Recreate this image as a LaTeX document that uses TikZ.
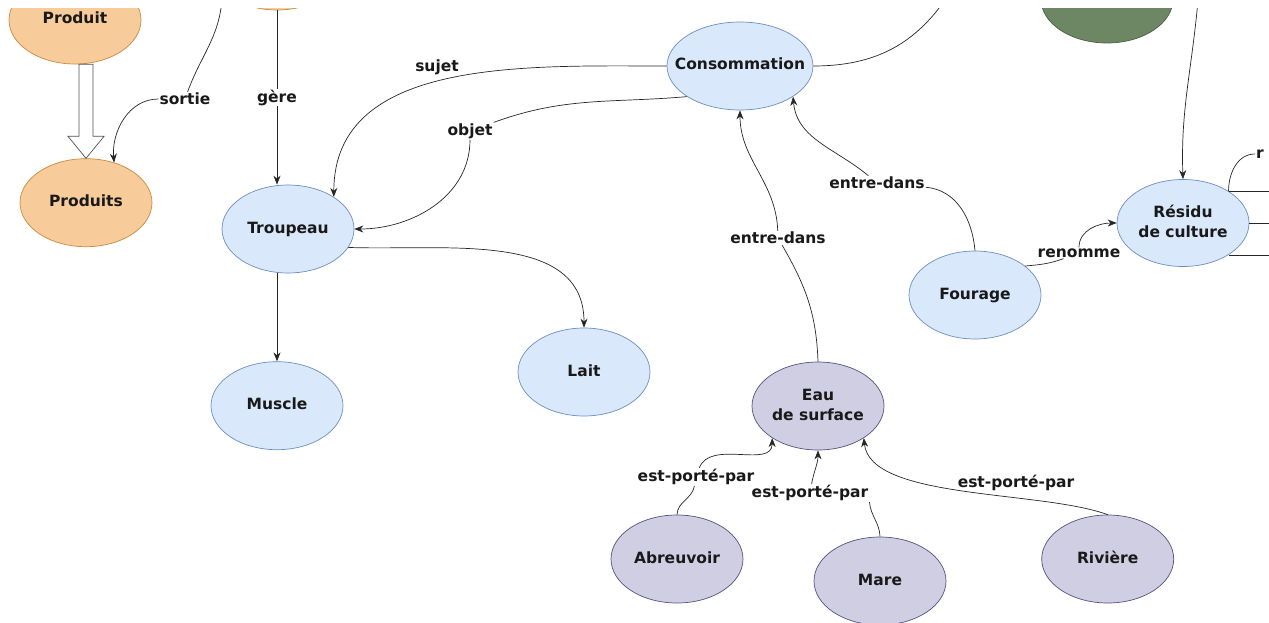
\documentclass[tikz,border=0pt]{standalone}
\usepackage{fontspec}
\setmainfont{DejaVu Sans}
\usepackage{tikz}
\usetikzlibrary{arrows.meta,positioning,shapes.geometric,calc}
\definecolor{bleufond}{HTML}{DAE8FC}
\definecolor{bleutrait}{HTML}{6C8EBF}
\definecolor{orangefond}{HTML}{F8CB9A}
\definecolor{orangetrait}{HTML}{C98A3E}
\definecolor{violetfond}{HTML}{D0CEE2}
\definecolor{violettrait}{HTML}{56517E}
\definecolor{vertfond}{HTML}{6D8764}
\definecolor{trait}{HTML}{262626}
\newcommand{\txt}[1]{\makebox[0pt]{\begin{tabular}{@{}c@{}}#1\end{tabular}}}
\tikzset{
    %Define standard arrow tip
    >={Stealth[length=9pt,width=7pt]},
    %Define style for ellipses
    concept/.style={
           ellipse,
           draw,
           line width=0.7pt,
           minimum width=132pt,
           minimum height=88pt,
           inner sep=0pt,
           font=\fontsize{15.5}{20}\selectfont\bfseries,
           text=black!90,
           },
    noeudbleu/.style={concept, fill=bleufond, draw=bleutrait},
    noeudorange/.style={concept, fill=orangefond, draw=orangetrait},
    noeudviolet/.style={concept, fill=violetfond, draw=violettrait},
    noeudvert/.style={concept, fill=vertfond, draw=vertfond!70!black},
    % Define style for edge labels
    lab/.style={
           fill=white,
           inner sep=1pt,
           font=\fontsize{15.5}{20}\selectfont\bfseries,
           text=black!90,
           },
    % Define arrow style
    lien/.style={->, draw=trait, line width=0.7pt},
    creux/.style={draw=trait!80, fill=white, line width=0.7pt}
}
\begin{document}
\begin{tikzpicture}[x=1pt,y=1pt]
\useasboundingbox (0,0) rectangle (1269,-623);
\clip (0,-9) rectangle (1269,-623);
% nodes
\node[noeudorange] (produit) at (75,-20) {\txt{Produit}};
\node[noeudorange] (gestion) at (277,34) {};
\node[noeudorange, below=94pt of produit, xshift=11pt] (produits) {\txt{Produits}};
\node[noeudbleu] (troupeau) at (288,-229) {\txt{Troupeau}};
\node[noeudbleu, below=88pt of troupeau, xshift=-11pt] (muscle) {\txt{Muscle}};
\node[noeudbleu] (lait) at (584,-372) {\txt{Lait}};
\node[noeudbleu, minimum width=146pt] (conso) at (740,-66) {\txt{Consommation}};
\node[noeudviolet] (eau) at (818,-406) {\txt{Eau\\de surface}};
\node[noeudbleu] (fourage) at (975,-295) {\txt{Fourage}};
\node[noeudbleu, minimum height=87pt] (residu) at (1183,-223) {\txt{Résidu\\de culture}};
\node[noeudvert] (vert) at (1107,1) {};
\node[noeudviolet] (abreuvoir) at (677,-559) {\txt{Abreuvoir}};
\node[noeudviolet, right=298pt of abreuvoir] (riviere) {\txt{Rivière}};
\node[noeudviolet] (mare) at (880,-581) {\txt{Mare}};
% labels
\node[lab] (sortie) at (185,-99) {sortie};
\node[lab] at (437,-67) {sujet};
\node[lab] (objet) at (470,-131) {objet};
\node[lab] (entre1) at (778,-238) {entre-dans};
\node[lab] (entre2) at (877,-183) {entre-dans};
\node[lab] (renomme) at (1079,-253) {renomme};
\node[lab] (porte1) at (696,-477) {est-porté-par};
\node[lab] (porte2) at (810,-493) {est-porté-par};
\node[lab] at (1016,-483) {est-porté-par};
\node[lab, anchor=west] (rlab) at (1255,-154) {r};
\coordinate (hautS) at (222,0);
\coordinate (hautC) at (945,0);
\coordinate (hautR) at (1198,0);
% edges
\draw[creux] (produits.north) -- ++(-18,22) -- ++(11,0)
    -- ($(produits.north |- produit.south)+(-7,0)$) -- ++(14,0)
    -- ($(produits.north)+(7,22)$) -- ++(11,0) -- cycle;
\draw[lien] (hautS) to[out=-95,in=70] (sortie) to[out=180,in=95] (produits.55);
\draw[lien] (gestion) -- node[lab]{gère} (troupeau.north -| gestion);
\draw[lien] (troupeau.south -| muscle) -- (muscle.north);
\draw[lien] (troupeau.-17) to[out=-2,in=90] (lait.north);
\draw[lien] (conso.west) to[out=180,in=90] (troupeau.35);
\draw[lien] (conso.210) to[out=185,in=20] (objet) to[out=-90,in=0] (troupeau.east);
\draw[lien, -] (conso.east) to[out=0,in=-125] (hautC);
\draw[lien] (eau.north) to[out=92,in=-60] (entre1) to[out=92,in=-90] (conso.south);
\draw[lien] (fourage.north) to[out=95,in=-5] (entre2) to[out=140,in=-85] (conso.-30);
\draw[lien] (fourage.30) to[out=5,in=200] (renomme) to[out=90,in=180] (residu.west);
\draw[lien] (hautR) to[out=-95,in=92] (residu.north);
\draw[lien] (residu.35) -- ++(60,0);
\draw[lien] (residu.east) -- ++(40,0);
\draw[lien] (residu.-35) -- ++(60,0);
\draw[lien, -] (residu.35) to[out=90,in=180] (rlab);
\draw[lien] (abreuvoir.north) to[out=88,in=-100] (porte1) to[out=70,in=-90] (eau.215);
\draw[lien] (mare.north) to[out=92,in=-85] (porte2.south east) (porte2) to[out=80,in=-90] (eau.south);
\draw[lien] (riviere.north) .. controls (1040,-490) and (870,-500) .. (eau.-35);
\end{tikzpicture}
\end{document}
